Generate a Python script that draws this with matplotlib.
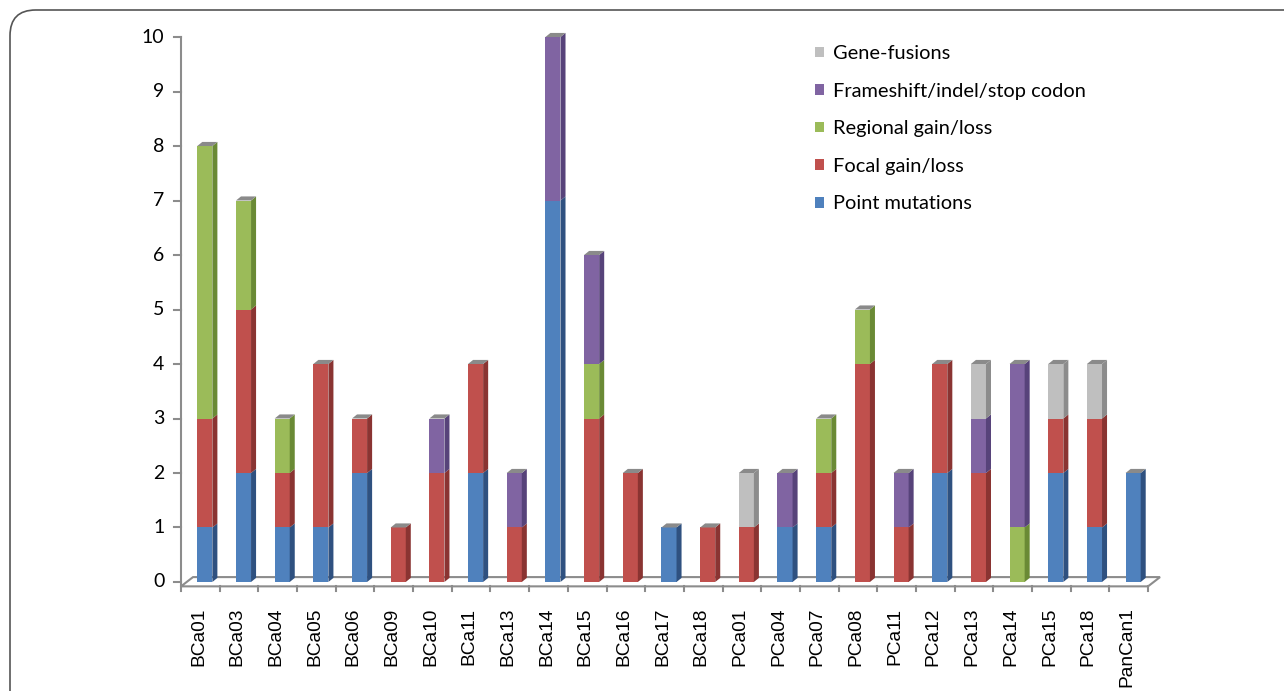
import numpy as np
import matplotlib
matplotlib.use("Agg")
import matplotlib.pyplot as plt
from matplotlib.patches import Polygon, Patch, FancyBboxPatch

plt.rcParams['font.family'] = ['Lato', 'DejaVu Sans']

samples = ['BCa01', 'BCa03', 'BCa04', 'BCa05', 'BCa06', 'BCa09', 'BCa10', 'BCa11',
           'BCa13', 'BCa14', 'BCa15', 'BCa16', 'BCa17', 'BCa18', 'PCa01', 'PCa04',
           'PCa07', 'PCa08', 'PCa11', 'PCa12', 'PCa13', 'PCa14', 'PCa15', 'PCa18',
           'PanCan1']
point_mut   = [1, 2, 1, 1, 2, 0, 0, 2, 0, 7, 0, 0, 1, 0, 0, 1, 1, 0, 0, 2, 0, 0, 2, 1, 2]
focal       = [2, 3, 1, 3, 1, 1, 2, 2, 1, 0, 3, 2, 0, 1, 1, 0, 1, 4, 1, 2, 2, 0, 1, 2, 0]
regional    = [5, 2, 1, 0, 0, 0, 0, 0, 0, 0, 1, 0, 0, 0, 0, 0, 1, 1, 0, 0, 0, 1, 0, 0, 0]
frameshift  = [0, 0, 0, 0, 0, 0, 1, 0, 1, 3, 2, 0, 0, 0, 0, 1, 0, 0, 1, 0, 1, 3, 0, 0, 0]
genefusions = [0, 0, 0, 0, 0, 0, 0, 0, 0, 0, 0, 0, 0, 0, 1, 0, 0, 0, 0, 0, 1, 0, 1, 1, 0]

series = [point_mut, focal, regional, frameshift, genefusions]
names = ['Point mutations', 'Focal gain/loss', 'Regional gain/loss',
         'Frameshift/indel/stop codon', 'Gene-fusions']
front = ['#4F81BD', '#C0504D', '#9BBB59', '#8064A2', '#BFBFBF']
side = ['#2F5180', '#8A3432', '#6A8A35', '#57437A', '#8C8C8C']
topc = '#8A8A8A'
gridc = '#8C8C8C'

fig = plt.figure(figsize=(12.84, 6.91), dpi=100)
ax = fig.add_axes([0.1199, 0.1262, 0.7953, 0.836])
ax.set_xlim(-1.2, 25.2)
ax.set_ylim(-0.4, 10.2)
ax.axis('off')

# rounded frame
frame = FancyBboxPatch((10 / 1284, -0.2), 1.3, 1.2 - 10 / 691,
                       boxstyle="round,pad=0,rounding_size=0.02",
                       transform=fig.transFigure, fc='none', ec='#555555', lw=1.2,
                       mutation_aspect=1284 / 691)
fig.patches.append(frame)

n = len(samples)
# floor
fy0, fy1, fdx = -0.08, 0.09, 0.31
floor = Polygon([(-0.5, fy0), (n - 0.5, fy0), (n - 0.5 + fdx, fy1), (-0.5 + fdx, fy1)],
                closed=True, fc='white', ec=gridc, lw=1.5, zorder=1)
ax.add_patch(floor)

# y axis
ax.plot([-0.5, -0.5], [fy0, 10], color=gridc, lw=1.5, zorder=1)
for v in range(11):
    ax.plot([-0.68, -0.5], [v, v], color=gridc, lw=1.5)
    ax.text(-0.93, v, str(v), ha='right', va='center', fontsize=14, color='black')

# x ticks & labels
for i in range(n + 1):
    ax.plot([i - 0.5, i - 0.5], [fy0, fy0 - 0.09], color=gridc, lw=1.5)
for i, s in enumerate(samples):
    ax.text(i - 0.05, -0.47, s, rotation=90, ha='center', va='top', fontsize=13.8,
            family='Liberation Sans')

# 3D-look stacked bars
w, dx, dy = 0.39, 0.13, 0.075
for i in range(n):
    x0 = i - 0.08
    x1 = x0 + w
    base = 0
    for k, vals in enumerate(series):
        h = vals[i]
        if h == 0:
            continue
        ax.add_patch(Polygon([(x0, base), (x1, base), (x1, base + h), (x0, base + h)],
                             closed=True, fc=front[k], ec='none', zorder=3))
        ax.add_patch(Polygon([(x1, base), (x1 + dx, base + dy), (x1 + dx, base + h + dy),
                              (x1, base + h)], closed=True, fc=side[k], ec='none', zorder=3))
        base += h
    ax.add_patch(Polygon([(x0, base), (x1, base), (x1 + dx, base + dy), (x0 + dx, base + dy)],
                         closed=True, fc=topc, ec='none', zorder=3))

handles = [Patch(fc=front[k], ec='none') for k in range(5)][::-1]
fig.legend(handles, names[::-1], loc='upper left',
           bbox_to_anchor=(815 / 1284, 1 - 45 / 691), frameon=False,
           fontsize=14.4, handlelength=0.45, handleheight=0.45, handletextpad=0.45,
           labelspacing=1.03, borderpad=0, borderaxespad=0)

fig.savefig('out.png', dpi=100)
